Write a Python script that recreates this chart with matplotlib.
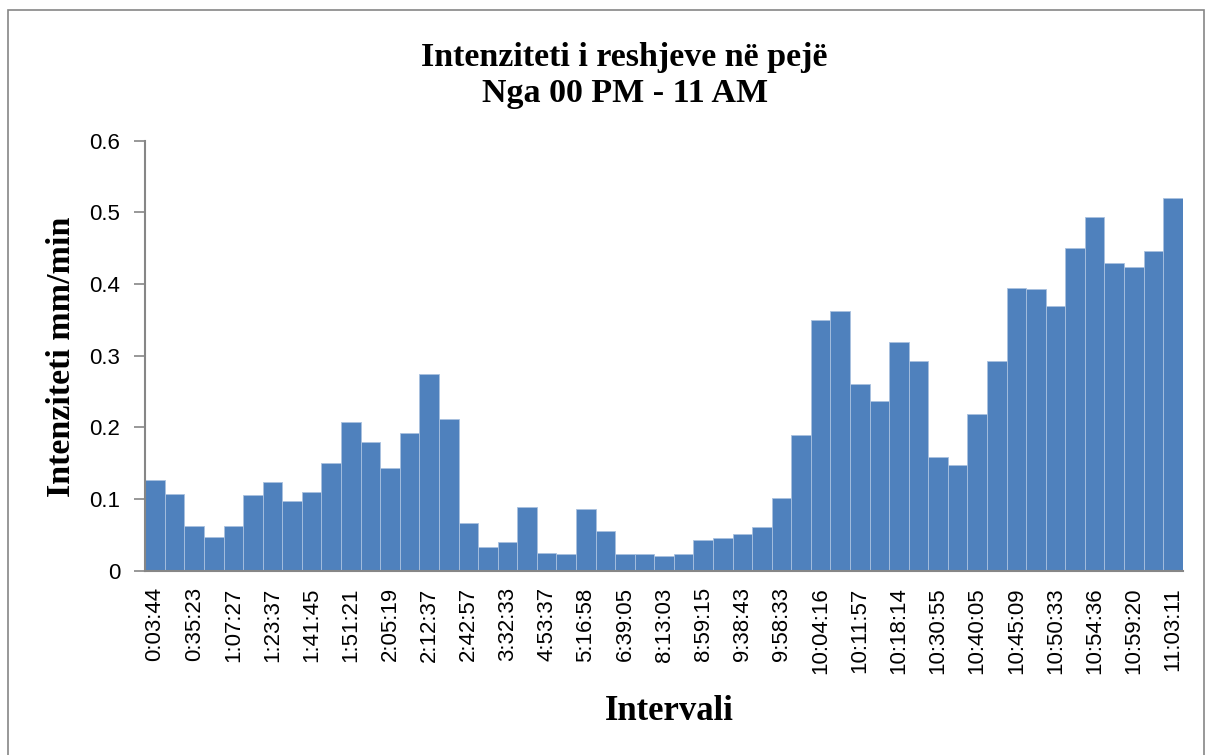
import matplotlib
matplotlib.use("Agg")
import matplotlib.pyplot as plt
import numpy as np
from matplotlib.patches import Rectangle

# rainfall intensity per interval (mm/min)
intensity = [0.126, 0.107, 0.063, 0.047, 0.062, 0.106, 0.124, 0.097, 0.110, 0.150,
             0.208, 0.180, 0.143, 0.192, 0.274, 0.212, 0.066, 0.033, 0.040, 0.089,
             0.025, 0.023, 0.086, 0.056, 0.024, 0.024, 0.021, 0.024, 0.043, 0.045,
             0.051, 0.061, 0.101, 0.190, 0.350, 0.363, 0.260, 0.237, 0.319, 0.293,
             0.158, 0.147, 0.218, 0.293, 0.395, 0.393, 0.370, 0.450, 0.494, 0.430,
             0.424, 0.446, 0.520]

# only every second interval is labelled on the axis
interval_labels = ["0:03:44", "0:35:23", "1:07:27", "1:23:37", "1:41:45", "1:51:21",
                   "2:05:19", "2:12:37", "2:42:57", "3:32:33", "4:53:37", "5:16:58",
                   "6:39:05", "8:13:03", "8:59:15", "9:38:43", "9:58:33", "10:04:16",
                   "10:11:57", "10:18:14", "10:30:55", "10:40:05", "10:45:09",
                   "10:50:33", "10:54:36", "10:59:20", "11:03:11"]

y_ticks = [0, 0.1, 0.2, 0.3, 0.4, 0.5, 0.6]
y_tick_labels = ["0", "0.1", "0.2", "0.3", "0.4", "0.5", "0.6"]

serif = "Liberation Serif"
sans = "Liberation Sans"

fig = plt.figure(figsize=(12.06, 7.55), dpi=100)
ax = fig.add_axes([0.1205, 0.2441, 0.8602, 0.5695])

x = np.arange(len(intensity))
ax.bar(x, intensity, width=1.0, color="#4F81BD", edgecolor="#A9C1DF", linewidth=0.6)

ax.set_xlim(-0.5, len(intensity) - 0.5)
ax.set_ylim(0, 0.6)
ax.set_yticks(y_ticks)
ax.set_yticklabels(y_tick_labels, fontsize=16, family=sans)
ax.set_xticks(x[::2])
ax.set_xticklabels(interval_labels, rotation=90, fontsize=16, family=sans)

for side in ["top", "right"]:
    ax.spines[side].set_visible(False)
for side in ["left", "bottom"]:
    ax.spines[side].set_color("#868686")
    ax.spines[side].set_linewidth(1.5)
ax.tick_params(axis="y", length=8, width=1.2, color="#868686", pad=10)
ax.tick_params(axis="x", length=0, pad=12)

fig.text(0.518, 0.924, "Intenziteti i reshjeve në pejë", ha="center", va="center",
         fontsize=24.5, fontweight="bold", family=serif)
fig.text(0.518, 0.876, "Nga 00 PM - 11 AM", ha="center", va="center",
         fontsize=24.5, fontweight="bold", family=serif)
fig.text(0.051, 0.527, "Intenziteti mm/min", ha="center", va="center", rotation=90,
         fontsize=24.5, fontweight="bold", family=serif)
fig.text(0.555, 0.057, "Intervali", ha="center", va="center",
         fontsize=25, fontweight="bold", family=serif)

# chart border
fig.patches.append(Rectangle((0.007, -0.01), 0.991, 0.997, transform=fig.transFigure,
                             fill=False, edgecolor="#868686", linewidth=1.2))

fig.savefig("out.png", dpi=100)
